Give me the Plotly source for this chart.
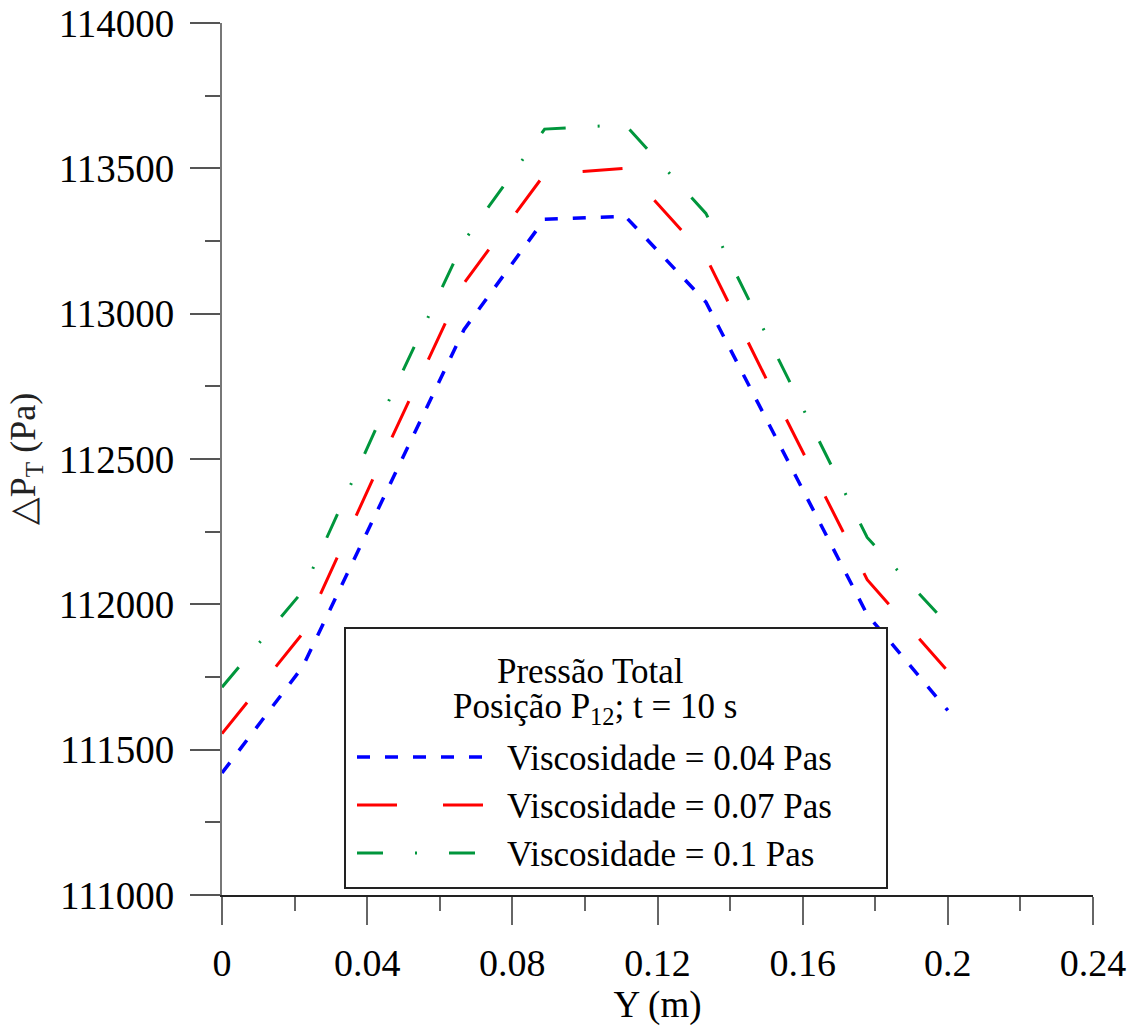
import plotly.graph_objects as go

# Position along the channel (m)
y_pos = [0.0, 0.02222, 0.04444, 0.06667, 0.08889, 0.11111, 0.13333, 0.15556, 0.17778, 0.2]

# Total pressure (Pa) for each viscosity
p_visc_004 = [111420, 111785, 112365, 112945, 113325, 113335, 113040, 112500, 111965, 111635]
p_visc_007 = [111555, 111900, 112510, 113105, 113480, 113500, 113195, 112635, 112085, 111770]
p_visc_010 = [111715, 112045, 112660, 113250, 113635, 113650, 113345, 112785, 112230, 111930]

series_names = ["Viscosidade = 0.04 Pas", "Viscosidade = 0.07 Pas", "Viscosidade = 0.1 Pas"]
series_colors = ["#0000FF", "#FF0000", "#00963C"]
series_dash = ["13px,15px", "40px,46px", "26px,32px,2px,32px"]
series_width = [3.5, 3, 3]

legend_title_1 = "Pressão Total"
legend_title_2 = "Posição P<sub>12</sub>; t = 10 s"

FONT = "'Liberation Serif', 'Times New Roman', serif"

W, H = 1135, 1027
ML, MR, MT, MB = 222, 42, 23, 132
PW, PH = W - ML - MR, H - MT - MB


def px_x(px):
    return (px - ML) / PW


def px_y(py):
    return (H - MB - py) / PH


fig = go.Figure()
for vals, name, col, dash, lw in zip(
    [p_visc_004, p_visc_007, p_visc_010], series_names, series_colors, series_dash, series_width
):
    fig.add_trace(go.Scatter(
        x=y_pos, y=vals, mode="lines", name=name,
        line=dict(color=col, dash=dash, width=lw),
        showlegend=False,
    ))

# Legend box drawn by hand so the line samples are long enough for the dash patterns
shapes = [dict(
    type="rect", xref="paper", yref="paper",
    x0=px_x(345), x1=px_x(887), y0=px_y(888), y1=px_y(628),
    line=dict(color="#222222", width=2), fillcolor="white", layer="above",
)]
annotations = [
    dict(text=legend_title_1, x=px_x(590), y=px_y(671), xref="paper", yref="paper",
         showarrow=False, xanchor="center", yanchor="middle",
         font=dict(family=FONT, size=35, color="black")),
    dict(text=legend_title_2, x=px_x(595), y=px_y(708), xref="paper", yref="paper",
         showarrow=False, xanchor="center", yanchor="middle",
         font=dict(family=FONT, size=35, color="black")),
]
item_rows = [757, 805, 853]
for row, name, col, dash, lw in zip(item_rows, series_names, series_colors, series_dash, series_width):
    shapes.append(dict(
        type="line", xref="paper", yref="paper",
        x0=px_x(357), x1=px_x(485), y0=px_y(row), y1=px_y(row),
        line=dict(color=col, dash=dash, width=lw), layer="above",
    ))
    annotations.append(dict(
        text=name, x=px_x(505), y=px_y(row + 1), xref="paper", yref="paper",
        showarrow=False, xanchor="left", yanchor="middle",
        font=dict(family=FONT, size=35, color="black"),
    ))

fig.update_layout(
    width=W, height=H,
    margin=dict(l=ML, r=MR, t=MT, b=MB),
    paper_bgcolor="white", plot_bgcolor="white",
    font=dict(family=FONT, color="black"),
    showlegend=False,
    shapes=shapes,
    annotations=annotations,
    xaxis=dict(
        range=[0, 0.24], tickmode="linear", tick0=0, dtick=0.04,
        ticks="outside", ticklen=28, tickwidth=2, tickcolor="#666666",
        minor=dict(ticks="outside", dtick=0.02, ticklen=14, tickwidth=2, tickcolor="#666666", showgrid=False),
        showline=True, linecolor="#222222", linewidth=2,
        showgrid=False, zeroline=False, automargin=False,
        ticklabelstandoff=5,
        tickfont=dict(family=FONT, size=38, color="black"),
        title=dict(text="Y (m)", font=dict(family=FONT, size=37, color="black"), standoff=6),
    ),
    yaxis=dict(
        range=[111000, 114000], tickmode="linear", tick0=111000, dtick=500,
        tickformat="d",
        ticks="outside", ticklen=30, tickwidth=2, tickcolor="#555555",
        minor=dict(ticks="outside", dtick=250, ticklen=15, tickwidth=2, tickcolor="#555555", showgrid=False),
        showline=True, linecolor="#777777", linewidth=2,
        showgrid=False, zeroline=False, automargin=False,
        ticklabelstandoff=8,
        tickfont=dict(family=FONT, size=39, color="black"),
        title=dict(text="△P<sub>T</sub> (Pa)", font=dict(family=FONT, size=36, color="#222222"), standoff=12),
    ),
)

fig.write_html("out.html")
